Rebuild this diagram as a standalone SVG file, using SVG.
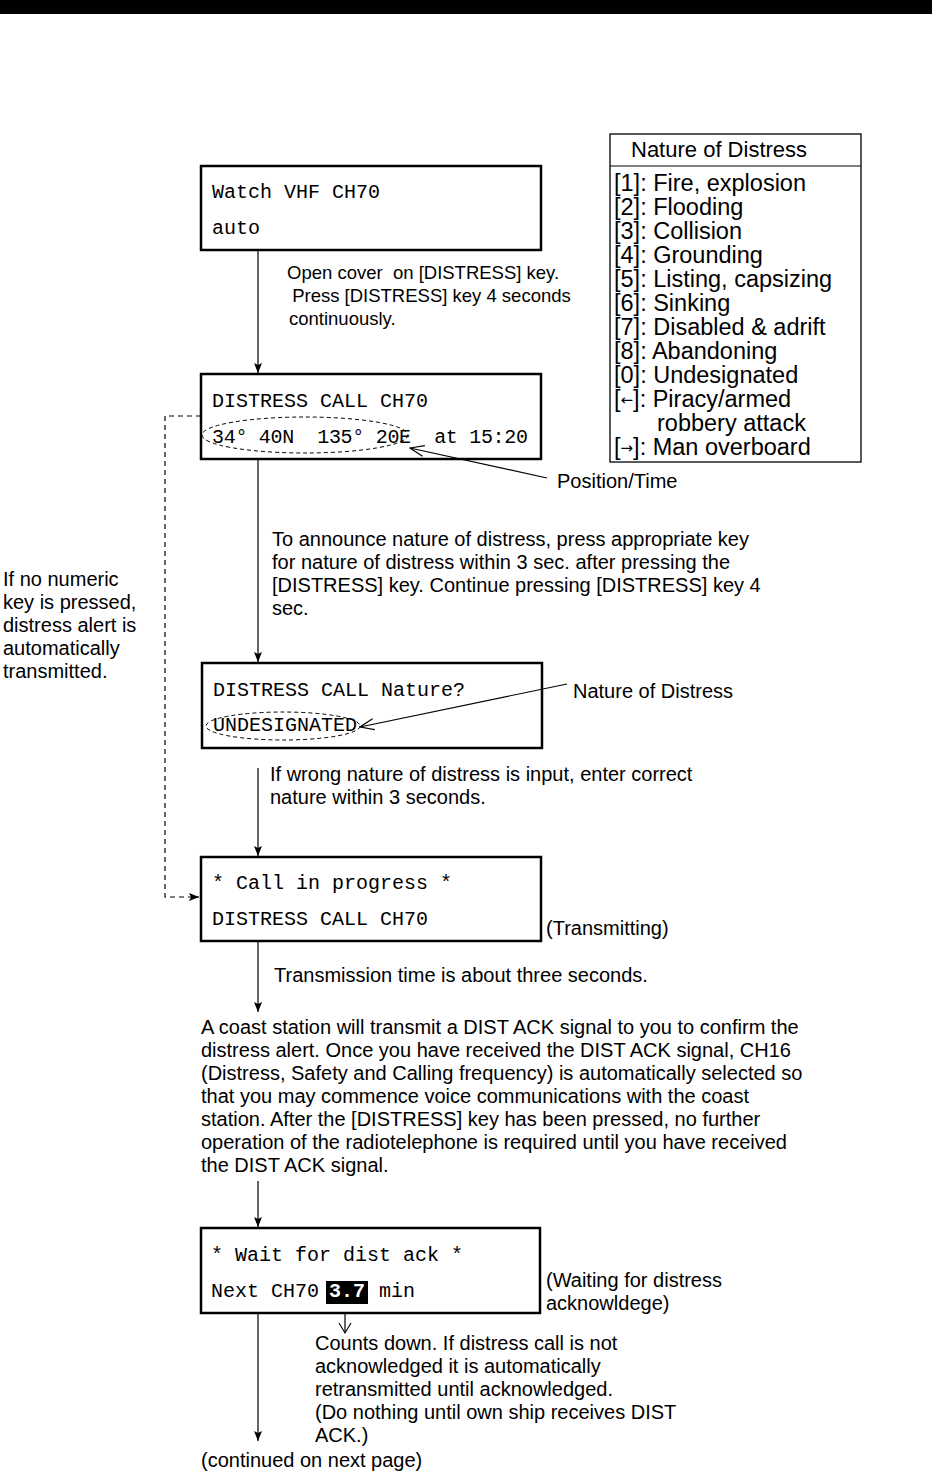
<svg xmlns="http://www.w3.org/2000/svg" width="936" height="1472" viewBox="0 0 936 1472">
<style>
.box{fill:#fff;stroke:#000;stroke-width:2.5}
.mono{font-family:"Liberation Mono","DejaVu Sans Mono",monospace;font-size:20px;fill:#000}
.sans{font-family:"Liberation Sans",Arial,sans-serif;font-size:20px;fill:#000}
.sm{font-family:"Liberation Sans",Arial,sans-serif;font-size:18.5px;fill:#000}
.nat{font-family:"Liberation Sans",Arial,sans-serif;font-size:23.5px;fill:#000}
.arr{font-family:"DejaVu Sans",sans-serif;font-size:15px}
.line{stroke:#000;stroke-width:1.2;fill:none}
.dash{stroke:#000;stroke-width:1.2;fill:none;stroke-dasharray:5,4}
.ell{stroke:#000;stroke-width:1;fill:none;stroke-dasharray:4,3}
</style>
<defs>
<marker id="ah" markerWidth="10" markerHeight="12" refX="10" refY="6" orient="auto" markerUnits="userSpaceOnUse">
<path d="M0,2 L10,6 L0,10 L2,6 Z" fill="#000"/>
</marker>
<marker id="oa" markerWidth="16" markerHeight="14" refX="15" refY="7" orient="auto" markerUnits="userSpaceOnUse">
<path d="M1,1.5 L15,7 L1,12.5" fill="none" stroke="#000" stroke-width="1.2"/>
</marker>
</defs>
<rect x="0" y="0" width="932" height="14" fill="#000"/>

<g id="legend">
<rect x="610" y="134" width="251" height="328" fill="#fff" stroke="#000" stroke-width="1.3"/>
<line x1="610" y1="166" x2="861" y2="166" stroke="#000" stroke-width="1.2"/>
<text class="sans" x="631" y="157" style="font-size:22px">Nature of Distress</text>
<text class="nat" x="614" y="191">[1]: Fire, explosion</text>
<text class="nat" x="614" y="215">[2]: Flooding</text>
<text class="nat" x="614" y="239">[3]: Collision</text>
<text class="nat" x="614" y="263">[4]: Grounding</text>
<text class="nat" x="614" y="287">[5]: Listing, capsizing</text>
<text class="nat" x="614" y="311">[6]: Sinking</text>
<text class="nat" x="614" y="335">[7]: Disabled &amp; adrift</text>
<text class="nat" x="614" y="359">[8]: Abandoning</text>
<text class="nat" x="614" y="383">[0]: Undesignated</text>
<text class="nat" x="614" y="407">[<tspan class="arr" dy="-2">←</tspan><tspan dy="2">]: Piracy/armed</tspan></text>
<text class="nat" x="657" y="431">robbery attack</text>
<text class="nat" x="614" y="455">[<tspan class="arr" dy="-2">→</tspan><tspan dy="2">]: Man overboard</tspan></text>
</g>

<g id="node1">
<rect class="box" x="201" y="166" width="340" height="84"/>
<text class="mono" x="212" y="198">Watch VHF CH70</text>
<text class="mono" x="212" y="234">auto</text>
</g>

<g id="node2">
<rect class="box" x="201" y="374" width="340" height="85"/>
<text class="mono" x="212" y="407">DISTRESS CALL CH70</text>
<text class="mono" x="212" y="443" xml:space="preserve" textLength="316" lengthAdjust="spacing">34° 40N  135° 20E  at 15:20</text>
<ellipse class="ell" cx="305" cy="435" rx="103" ry="18"/>
</g>

<g id="node3">
<rect class="box" x="202" y="663" width="340" height="85"/>
<text class="mono" x="213" y="696">DISTRESS CALL Nature?</text>
<text class="mono" x="213" y="731">UNDESIGNATED</text>
<ellipse class="ell" cx="283" cy="726" rx="77" ry="14"/>
</g>

<g id="node4">
<rect class="box" x="201" y="857" width="340" height="84"/>
<text class="mono" x="212" y="889">* Call in progress *</text>
<text class="mono" x="212" y="925">DISTRESS CALL CH70</text>
</g>

<g id="node5">
<rect class="box" x="201" y="1228" width="339" height="85"/>
<text class="mono" x="211" y="1261">* Wait for dist ack *</text>
<text class="mono" x="211" y="1297">Next CH70</text>
<rect x="326" y="1281" width="42" height="23" fill="#000"/>
<text class="mono" x="329" y="1297" style="fill:#fff;font-weight:bold">3.7</text>
<text class="mono" x="379" y="1297">min</text>
</g>

<g id="connectors">
<line class="line" x1="258" y1="250" x2="258" y2="373" marker-end="url(#ah)"/>
<line class="line" x1="258" y1="459" x2="258" y2="662" marker-end="url(#ah)"/>
<line class="line" x1="258" y1="768" x2="258" y2="856" marker-end="url(#ah)"/>
<line class="line" x1="258" y1="941" x2="258" y2="1012" marker-end="url(#ah)"/>
<line class="line" x1="258" y1="1181" x2="258" y2="1227" marker-end="url(#ah)"/>
<line class="line" x1="258" y1="1313" x2="258" y2="1441" marker-end="url(#ah)"/>
<path class="dash" d="M201,416 H165 V897 H199" marker-end="url(#ah)"/>
<line class="line" x1="547" y1="478" x2="410" y2="448" marker-end="url(#oa)"/>
<line class="line" x1="567" y1="684" x2="360" y2="727" marker-end="url(#oa)"/>
<line class="line" x1="345" y1="1313" x2="345" y2="1332"/>
<path d="M339,1323 L345,1333 L351,1323" fill="none" stroke="#000" stroke-width="1.1"/>
</g>

<g id="labels">
<text class="sm" x="287" y="279" xml:space="preserve">Open cover  on [DISTRESS] key.</text>
<text class="sm" x="287" y="302" xml:space="preserve"> Press [DISTRESS] key 4 seconds</text>
<text class="sm" x="289" y="325">continuously.</text>
<text class="sans" x="557" y="488">Position/Time</text>
<text class="sans" x="3" y="586">If no numeric</text>
<text class="sans" x="3" y="609">key is pressed,</text>
<text class="sans" x="3" y="632">distress alert is</text>
<text class="sans" x="3" y="655">automatically</text>
<text class="sans" x="3" y="678">transmitted.</text>
<text class="sans" x="272" y="546">To announce nature of distress, press appropriate key</text>
<text class="sans" x="272" y="569">for nature of distress within 3 sec. after pressing the</text>
<text class="sans" x="272" y="592">[DISTRESS] key. Continue pressing [DISTRESS] key 4</text>
<text class="sans" x="272" y="615">sec.</text>
<text class="sans" x="573" y="698">Nature of Distress</text>
<text class="sans" x="270" y="781">If wrong nature of distress is input, enter correct</text>
<text class="sans" x="270" y="804">nature within 3 seconds.</text>
<text class="sans" x="546" y="935">(Transmitting)</text>
<text class="sans" x="274" y="982">Transmission time is about three seconds.</text>
<text class="sans" x="201" y="1034">A coast station will transmit a DIST ACK signal to you to confirm the</text>
<text class="sans" x="201" y="1057">distress alert. Once you have received the DIST ACK signal, CH16</text>
<text class="sans" x="201" y="1080">(Distress, Safety and Calling frequency) is automatically selected so</text>
<text class="sans" x="201" y="1103">that you may commence voice communications with the coast</text>
<text class="sans" x="201" y="1126">station. After the [DISTRESS] key has been pressed, no further</text>
<text class="sans" x="201" y="1149">operation of the radiotelephone is required until you have received</text>
<text class="sans" x="201" y="1172">the DIST ACK signal.</text>
<text class="sans" x="546" y="1287">(Waiting for distress</text>
<text class="sans" x="546" y="1310">acknowldege)</text>
<text class="sans" x="315" y="1350">Counts down. If distress call is not</text>
<text class="sans" x="315" y="1373">acknowledged it is automatically</text>
<text class="sans" x="315" y="1396">retransmitted until acknowledged.</text>
<text class="sans" x="315" y="1419">(Do nothing until own ship receives DIST</text>
<text class="sans" x="315" y="1442">ACK.)</text>
<text class="sans" x="201" y="1467">(continued on next page)</text>
</g>
</svg>
